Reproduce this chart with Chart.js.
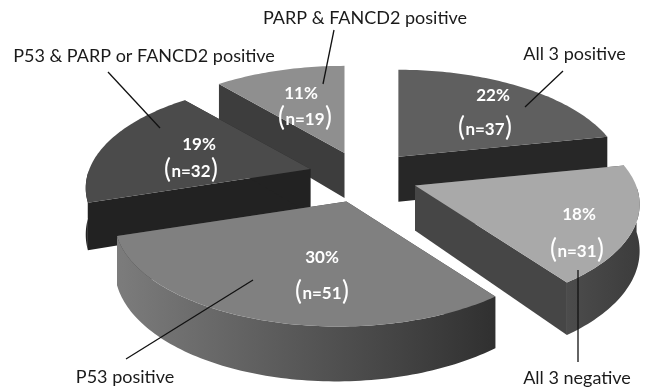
<!DOCTYPE html>
<html>
<head>
<meta charset="utf-8">
<script src="https://cdn.jsdelivr.net/npm/chart.js@4"></script>
<style>
html,body{margin:0;padding:0;background:#fff;}
canvas{display:block;}
</style>
</head>
<body>
<canvas id="pie" width="648" height="388"></canvas>
<script>
/* DATA */
const categories=["All 3 positive","All 3 negative","P53 positive","P53 & PARP or FANCD2 positive","PARP & FANCD2 positive"];
const counts=[37,31,51,32,19];
const percents=[22,18,30,19,11];

/* STYLE */
const topColors=["#5f5f5f","#a9a9a9","#808080","#4b4b4b","#8f8f8f"];
const faceColors=["#272727","#464646","#3a3a3a","#222222","#3d3d3d"];
const rimColors=[["#444","#444"],["#4c4c4c","#3c3c3c"],["#7c7c7c","#303030"],["#222","#222"],["#555","#555"]];
const wedgeSkew=[0,0,0.03,0,0];
const paintOrder=[4,0,3,1,2];

/* CAMERA: flat pie seen from above, front is closer */
const cam={x:363.5,y:176,rx:221,ry:102.6,persp:0.179,depth:45,explode:0.25};

/* white value labels, centre of each line */
const valuePos=[[493,96,485,130],[579,215,577,252],[322,258,322,294],[199,145,191,172],[301,94,305,120]];
/* names round the pie */
const namePos=[[574.5,54],[577,378],[125,377],[144,56],[365,18]];
/* leader lines */
const leaders=[[563,71,525,107],[578,270,578,362],[126,359,253,280],[108,72,160,128],[334,30,323,84]];

function project(apex,a,r,z,skew){
  const w=1+cam.persp*r*Math.cos(a)+skew*r*Math.sin(a);
  return {
    x:apex.x+cam.rx*r*Math.sin(a)/w,
    y:apex.y-cam.ry*r*Math.cos(a)/w+z*cam.depth/w
  };
}

function samples(start,end){
  const out=[];
  const n=Math.max(2,Math.ceil((end-start)/0.02));
  for(let i=0;i<=n;i++)out.push(start+(end-start)*i/n);
  return out;
}

function fillPath(ctx,pts,fill){
  ctx.beginPath();
  pts.forEach((p,i)=>i?ctx.lineTo(p.x,p.y):ctx.moveTo(p.x,p.y));
  ctx.closePath();
  ctx.fillStyle=fill;
  ctx.fill();
}

/* one exploded wedge, angles come from the arc element */
function drawWedge(ctx,arc,i){
  const start=arc.startAngle+Math.PI/2;
  const end=arc.endAngle+Math.PI/2;
  const mid=(start+end)/2;
  const k=wedgeSkew[i];
  const near=1+cam.persp*cam.explode*Math.cos(mid);
  const apex={
    x:cam.x+cam.explode*cam.rx*Math.sin(mid),
    y:cam.y-cam.explode*cam.ry*Math.cos(mid)/near
  };
  const angles=samples(start,end);

  // straight cut faces
  [start,end].forEach(a=>{
    fillPath(ctx,[
      project(apex,a,0,0,k),project(apex,a,1,0,k),
      project(apex,a,1,1,k),project(apex,a,0,1,k)
    ],faceColors[i]);
  });

  // curved side, only the part turned towards the viewer
  const front=angles.filter(a=>Math.cos(a)<0);
  if(front.length>1){
    const upper=front.map(a=>project(apex,a,1,0,k));
    const lower=front.map(a=>project(apex,a,1,1,k)).reverse();
    const xs=upper.map(p=>p.x);
    const grad=ctx.createLinearGradient(Math.min(...xs),0,Math.max(...xs),0);
    grad.addColorStop(0,rimColors[i][0]);
    grad.addColorStop(1,rimColors[i][1]);
    fillPath(ctx,upper.concat(lower),grad);
  }

  // top
  fillPath(ctx,[project(apex,0,0,0,k)].concat(angles.map(a=>project(apex,a,1,0,k))),topColors[i]);
}

function drawValue(ctx,i){
  const [px,py,nx,ny]=valuePos[i];
  ctx.fillStyle="#fff";
  ctx.textAlign="center";
  ctx.textBaseline="middle";
  ctx.font="bold 17px Lato";
  ctx.fillText(percents[i]+"%",px,py);

  const body="n="+counts[i];
  ctx.fillText(body,nx,ny);
  const half=ctx.measureText(body).width/2;
  ctx.font="26px Lato";
  ctx.fillText("(",nx-half-4,ny-2);
  ctx.fillText(")",nx+half+4,ny-2);
}

const wedgePlugin={
  id:"wedges",
  beforeDatasetDraw(chart){
    const ctx=chart.ctx;
    const arcs=chart.getDatasetMeta(0).data;
    ctx.save();
    paintOrder.forEach(i=>drawWedge(ctx,arcs[i],i));
    ctx.restore();
    return false;
  },
  afterDraw(chart){
    const ctx=chart.ctx;
    ctx.save();
    percents.forEach((p,i)=>drawValue(ctx,i));

    ctx.strokeStyle="#111";
    ctx.lineWidth=1.3;
    leaders.forEach(l=>{
      ctx.beginPath();
      ctx.moveTo(l[0],l[1]);
      ctx.lineTo(l[2],l[3]);
      ctx.stroke();
    });

    ctx.fillStyle="#1a1a1a";
    ctx.textAlign="center";
    ctx.textBaseline="middle";
    ctx.font="18px Lato";
    categories.forEach((c,i)=>ctx.fillText(c,namePos[i][0],namePos[i][1]));
    ctx.restore();
  }
};

new Chart(document.getElementById("pie"),{
  type:"pie",
  data:{
    labels:categories,
    datasets:[{data:counts,backgroundColor:topColors,borderWidth:0}]
  },
  options:{
    responsive:false,
    animation:false,
    plugins:{legend:{display:false},tooltip:{enabled:false}}
  },
  plugins:[wedgePlugin]
});
</script>
</body>
</html>
